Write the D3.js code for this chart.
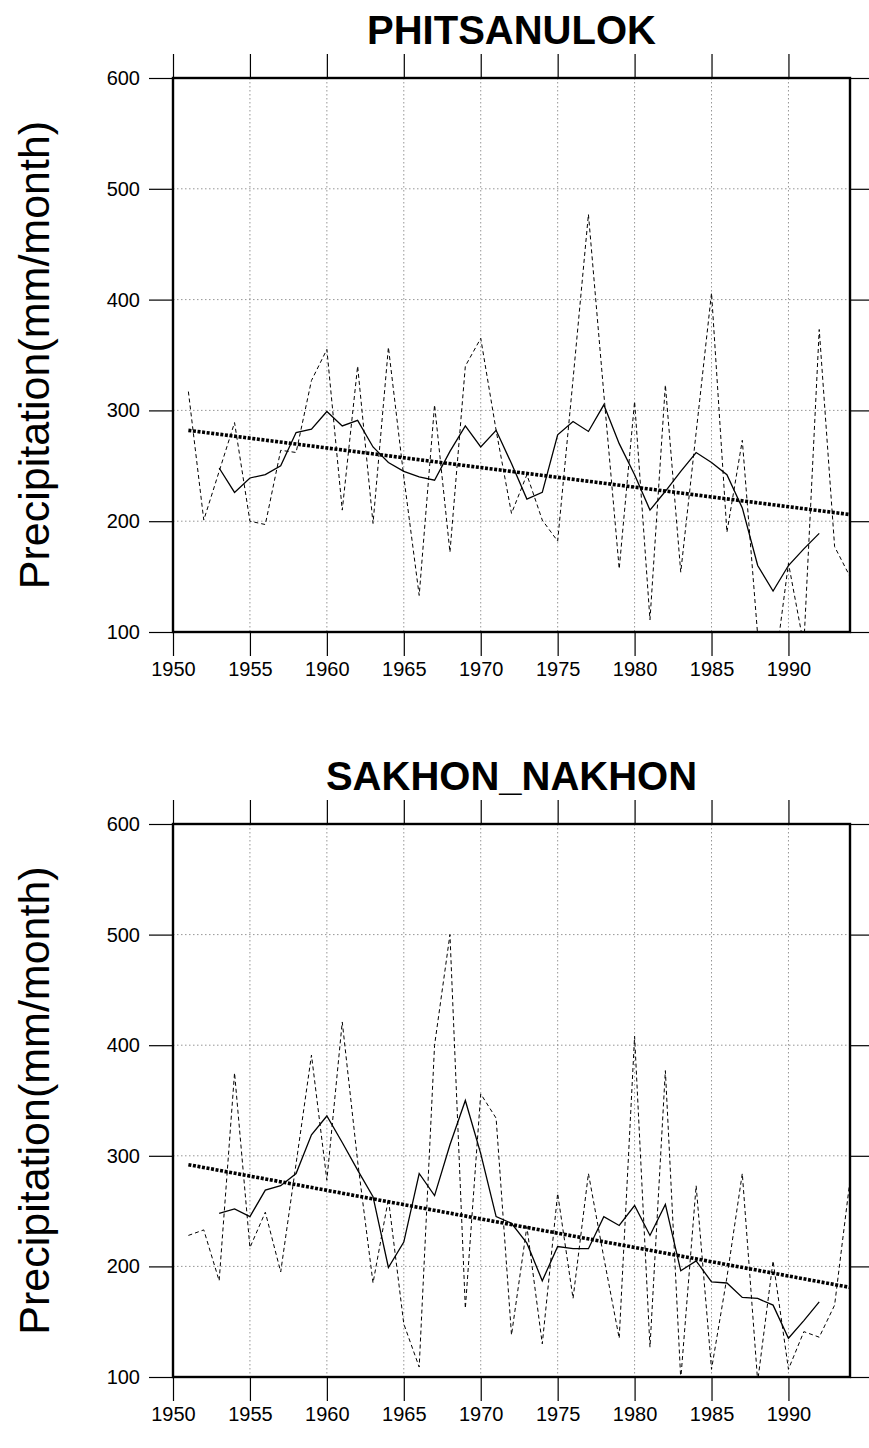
<!DOCTYPE html>
<html>
<head>
<meta charset="utf-8">
<script src="https://cdn.jsdelivr.net/npm/d3@7/dist/d3.min.js"></script>
<style>
  html, body { margin: 0; padding: 0; background: #fff; }
  svg { display: block; }
  text { font-family: "Liberation Sans", Arial, Helvetica, sans-serif; fill: #000; }
</style>
</head>
<body>
<svg id="chart" width="869" height="1448"></svg>
<script>
// ---------------- DATA ----------------
const years = [1951,1952,1953,1954,1955,1956,1957,1958,1959,1960,
               1961,1962,1963,1964,1965,1966,1967,1968,1969,1970,
               1971,1972,1973,1974,1975,1976,1977,1978,1979,1980,
               1981,1982,1983,1984,1985,1986,1987,1988,1989,1990,
               1991,1992,1993,1994];

const meanYears = [1953,1954,1955,1956,1957,1958,1959,1960,1961,1962,
                   1963,1964,1965,1966,1967,1968,1969,1970,1971,1972,
                   1973,1974,1975,1976,1977,1978,1979,1980,1981,1982,
                   1983,1984,1985,1986,1987,1988,1989,1990,1991,1992];

const trendYears = [1951, 1994];

const titles = ["PHITSANULOK", "SAKHON_NAKHON"];

// PHITSANULOK annual precipitation (mm/month)
const phitAnnual = [317,201,245,289,200,197,264,262,327,355,
                    210,340,198,357,240,133,305,172,340,365,
                    282,207,242,201,182,328,477,315,157,308,
                    111,323,154,280,406,190,273,97,55,162,
                    88,373,177,150];
// PHITSANULOK 5-yr running mean
const phitMean = [248,226,239,242,250,280,283,299,286,291,
                  267,253,245,240,237,263,286,267,282,252,
                  220,226,278,290,281,305,270,242,210,227,
                  245,262,253,242,212,160,137,160,175,189];
const phitTrend = [282, 206];

// SAKHON_NAKHON annual precipitation (mm/month)
const sakAnnual = [228,233,187,375,217,249,195,293,391,278,
                   421,295,185,261,148,109,400,500,162,356,
                   334,138,236,130,266,171,284,208,135,408,
                   127,377,98,273,107,190,284,96,205,107,
                   141,136,165,278];
// SAKHON_NAKHON 5-yr running mean
const sakMean = [248,252,245,269,273,284,319,336,312,287,
                 263,199,222,284,264,310,350,302,245,239,
                 221,187,218,216,216,245,237,255,228,256,
                 196,205,186,185,172,171,165,135,151,168];
const sakTrend = [292, 181];

const xTicks = [1950,1955,1960,1965,1970,1975,1980,1985,1990];
const yTicks = [100,200,300,400,500,600];
const xDomain = [1950, 1994];
const yDomain = [100, 600];
const yLabel = "Precipitation(mm/month)";

// ---------------- DRAW ----------------
const svg = d3.select("#chart");
const plotLeft = 173, plotRight = 850;
const panels = [
  {title: titles[0], annual: phitAnnual, mean: phitMean, trend: phitTrend, top: 78, bottom: 632},
  {title: titles[1], annual: sakAnnual, mean: sakMean, trend: sakTrend, top: 824, bottom: 1377}
];

panels.forEach((p, i) => {
  const x = d3.scaleLinear().domain(xDomain).range([plotLeft, plotRight]);
  const y = d3.scaleLinear().domain(yDomain).range([p.bottom, p.top]);
  const g = svg.append("g");

  const clipId = "clip" + i;
  svg.append("defs").append("clipPath").attr("id", clipId)
    .append("rect").attr("x", plotLeft).attr("y", p.top)
    .attr("width", plotRight - plotLeft).attr("height", p.bottom - p.top);

  // grid
  const grid = g.append("g").attr("stroke", "#8a8a8a").attr("stroke-width", 0.9)
    .attr("stroke-dasharray", "1.5,2.5");
  xTicks.filter(t => t > xDomain[0]).forEach(t => {
    grid.append("line").attr("x1", x(t)).attr("x2", x(t)).attr("y1", p.top).attr("y2", p.bottom);
  });
  yTicks.filter(t => t > yDomain[0] && t < yDomain[1]).forEach(t => {
    grid.append("line").attr("x1", plotLeft).attr("x2", plotRight).attr("y1", y(t)).attr("y2", y(t));
  });

  const data = g.append("g").attr("clip-path", `url(#${clipId})`);
  const line = d3.line().x(d => x(d[0])).y(d => y(d[1]));

  // annual dashed
  data.append("path").datum(years.map((yr, k) => [yr, p.annual[k]]))
    .attr("d", line).attr("fill", "none").attr("stroke", "#000")
    .attr("stroke-width", 1).attr("stroke-dasharray", "4,3");

  // running mean solid
  data.append("path").datum(meanYears.map((yr, k) => [yr, p.mean[k]]))
    .attr("d", line).attr("fill", "none").attr("stroke", "#000")
    .attr("stroke-width", 1.3);

  // trend thick dotted
  data.append("path").datum(trendYears.map((yr, k) => [yr, p.trend[k]]))
    .attr("d", line).attr("fill", "none").attr("stroke", "#000")
    .attr("stroke-width", 3.6).attr("stroke-dasharray", "3,1.6");

  // axes with outward ticks
  const tickLen = 24;
  const axBottom = d3.axisBottom(x).tickValues(xTicks).tickFormat(d3.format("d"))
    .tickSizeInner(tickLen).tickSizeOuter(0).tickPadding(6);
  const axTop = d3.axisTop(x).tickValues(xTicks).tickFormat("")
    .tickSizeInner(tickLen).tickSizeOuter(0);
  const axLeft = d3.axisLeft(y).tickValues(yTicks).tickFormat(d3.format("d"))
    .tickSizeInner(tickLen).tickSizeOuter(0).tickPadding(9);
  const axRight = d3.axisRight(y).tickValues(yTicks).tickFormat("")
    .tickSizeInner(tickLen - 5).tickSizeOuter(0);

  const gb = g.append("g").attr("transform", `translate(0,${p.bottom})`).call(axBottom);
  const gt = g.append("g").attr("transform", `translate(0,${p.top})`).call(axTop);
  const gl = g.append("g").attr("transform", `translate(${plotLeft},0)`).call(axLeft);
  const gr = g.append("g").attr("transform", `translate(${plotRight},0)`).call(axRight);

  [gb, gt, gl, gr].forEach(a => {
    a.select(".domain").remove();
    a.selectAll(".tick line").attr("stroke", "#000").attr("stroke-width", 1.2);
    a.selectAll(".tick text").attr("font-size", 20).attr("fill", "#000")
      .style("font-family", '"Liberation Sans", Arial, sans-serif');
  });

  // frame
  g.append("rect").attr("x", plotLeft).attr("y", p.top)
    .attr("width", plotRight - plotLeft).attr("height", p.bottom - p.top)
    .attr("fill", "none").attr("stroke", "#000").attr("stroke-width", 2.4);

  // title
  g.append("text").attr("x", (plotLeft + plotRight) / 2).attr("y", p.top - 34)
    .attr("text-anchor", "middle").attr("font-size", 40).attr("font-weight", "bold")
    .text(p.title);

  // y label
  g.append("text")
    .attr("transform", `translate(49,${(p.top + p.bottom) / 2}) rotate(-90)`)
    .attr("text-anchor", "middle").attr("font-size", 43)
    .text(yLabel);
});
</script>
</body>
</html>
